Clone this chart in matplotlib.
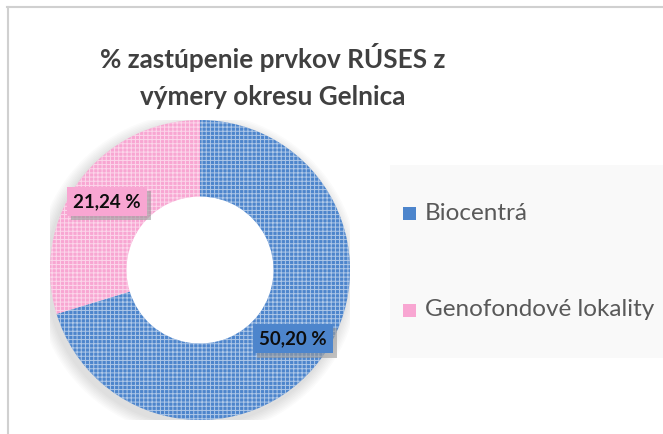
"""
Donut chart: share of RÚSES elements in the Gelnica district area
"""
import numpy as np
import matplotlib
matplotlib.use('Agg')
import matplotlib.pyplot as plt
from matplotlib.patches import Rectangle, Wedge
from matplotlib import patheffects as pe

plt.rcParams['font.family'] = ['Lato', 'DejaVu Sans']

categories = ['Biocentrá', 'Genofondové lokality']
values = [50.20, 21.24]
colors = ['#4d85cc', '#f8a6d2']
title = '% zastúpenie prvkov RÚSES z\nvýmery okresu Gelnica'

fig = plt.figure(figsize=(6.63, 4.34), dpi=100)
fig.patch.set_facecolor('white')

# chart frame (grey lines top and left) and legend background
fig.add_artist(plt.Line2D([7 / 663, 1], [1 - 7 / 434] * 2, color='#d0d0d0', lw=1.5))
fig.add_artist(plt.Line2D([8 / 663] * 2, [0, 1 - 7 / 434], color='#d0d0d0', lw=1.5))
fig.add_artist(Rectangle((390 / 663, 1 - 358 / 434), 273 / 663, 193 / 434,
                         transform=fig.transFigure, facecolor='#f9f9f9', edgecolor='none'))

fig.text(273 / 663, 1 - 76 / 434, title, ha='center', va='center', fontsize=18.8,
         fontweight='bold', color='#404040', linespacing=1.65)

ax = fig.add_axes([50 / 663, 14 / 434, 300 / 663, 300 / 434])
ax.axis('off')

# soft shadow around the ring
for i in range(1, 9):
    ax.add_patch(Wedge((-0.02, -0.03), 1.0 + i * 0.01, 0, 360, width=0.3,
                       facecolor='black', alpha=0.015, edgecolor='none'))

wedges, _ = ax.pie(values, colors=colors, startangle=90, counterclock=False,
                   radius=1.0, wedgeprops=dict(width=0.51, linewidth=0))
# white dotted pattern on top
plt.rcParams['hatch.linewidth'] = 0.7
hatched, _ = ax.pie(values, colors=['white', 'white'], startangle=90, counterclock=False,
                    radius=1.0, wedgeprops=dict(width=0.51, linewidth=0,
                                                edgecolor='white', hatch='++++'))
for w in hatched:
    w.set_facecolor('none')
    w.set_alpha(0.55)

ax.set_xlim(-1.0, 1.0)
ax.set_ylim(-1.0, 1.0)
ax.set_aspect('equal')

for w, v, c in zip(wedges, values, colors):
    mid = np.deg2rad((w.theta1 + w.theta2) / 2)
    x, y = 0.77 * np.cos(mid), 0.77 * np.sin(mid)
    label = f'{v:.2f}'.replace('.', ',') + ' %'
    t = ax.text(x, y, label, ha='center', va='center', fontsize=13.5,
                fontweight='bold', color='#0d0d0d',
                bbox=dict(boxstyle='square,pad=0.33', facecolor=c, edgecolor='none'))
    t.get_bbox_patch().set_path_effects(
        [pe.SimplePatchShadow(offset=(3, -3), shadow_rgbFace='#9a9a9a', alpha=0.6),
         pe.Normal()])

# legend
leg_y = [213, 310]
for name, c, yy in zip(categories, colors, leg_y):
    fy = 1 - yy / 434
    fig.add_artist(Rectangle((403 / 663, fy - 6.5 / 434), 13 / 663, 13 / 434,
                             transform=fig.transFigure, facecolor=c, edgecolor='none'))
    fig.text(425 / 663, fy, name, ha='left', va='center', fontsize=17.5, color='#595959')

fig.savefig('out.png', dpi=100)
